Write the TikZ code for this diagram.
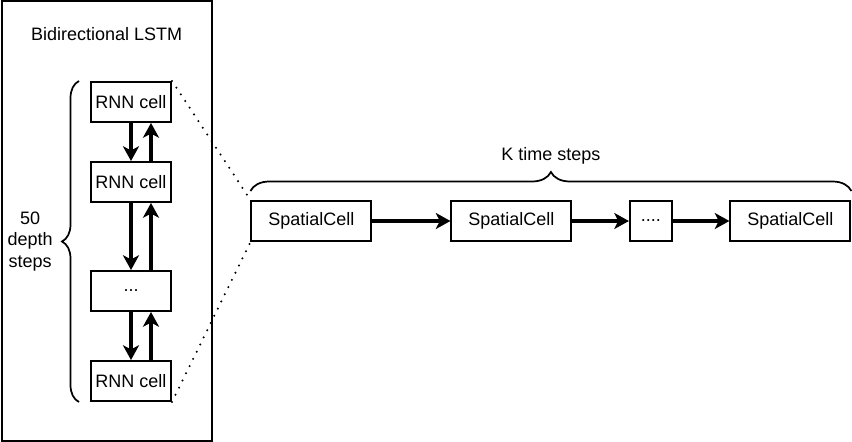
\documentclass[tikz,border=0pt]{standalone}
\usepackage{fontspec}
\setmainfont{Liberation Sans}
\usetikzlibrary{positioning,arrows.meta,decorations.pathreplacing}
\tikzset{
>={Stealth[length=11pt,width=12pt,inset=3pt]},
node distance=60pt,
cell/.style={draw, line width=1.5pt, minimum width=60pt, minimum height=30pt, inner sep=0pt},
spatial/.style={cell, minimum width=90pt},
link/.style={->, line width=2.6pt},
zoomline/.style={line width=1.7pt, line cap=round, dash pattern=on 0pt off 6pt},
stepbrace/.style={decorate, decoration={brace, amplitude=#1}, line width=1.3pt},
}

\begin{document}
\begin{tikzpicture}[font=\fontsize{13.5}{16}\selectfont]
        \useasboundingbox (0,0) rectangle (639pt,-331.5pt);
        % left: the stacked cells
        \node[draw, line width=1.5pt, minimum width=157.5pt, minimum height=329.25pt] (lstm) at (79.9pt,-165.75pt) {};
        \node (title) at ([yshift=-25pt]lstm.north) {Bidirectional LSTM};
        \node[cell] (1) at (98.25pt,-76.5pt) {RNN cell};
        \node[cell, below of=1] (2) {RNN cell};
        \node[cell, below of=2, node distance=81.75pt] (3) {...};
        \node[cell, below of=3, node distance=67.5pt] (4) {RNN cell};
        \draw[link] (1) -- (2);
        \draw[link] (2) -- (3);
        \draw[link] (3) -- (4);
        \draw[link] ([xshift=15pt]2.north) -- ([xshift=15pt]1.south);
        \draw[link] ([xshift=15pt]3.north) -- ([xshift=15pt]2.south);
        \draw[link] ([xshift=15pt]4.north) -- ([xshift=15pt]3.south);
        \draw[stepbrace=12.75pt] ([xshift=-8.25pt]4.south west) -- ([xshift=-8.25pt]1.north west)
        node[midway, left=15.75pt, align=center] (depth) {50\\depth\\steps};
        % right: the time steps
        \node[spatial] (s1) at (233.6pt,-165.75pt) {SpatialCell};
        \node[spatial, right of=s1, node distance=150pt] (s2) {SpatialCell};
        \node[cell, minimum width=31.5pt, right of=s2, node distance=104.6pt] (dots) {....};
        \node[spatial, right of=dots, node distance=104.6pt] (s4) {SpatialCell};
        \draw[link] (s1) -- (s2);
        \draw[link] (s2) -- (dots);
        \draw[link] (dots) -- (s4);
        \draw[stepbrace=14.25pt] ([yshift=6.75pt]s1.north west) -- ([yshift=6.75pt]s4.north east)
        node[midway, above=15.75pt] (ksteps) {K time steps};
        \draw[zoomline] (1.north east) -- (s1.north west);
        \draw[zoomline] (4.south east) -- (s1.south west);
    \end{tikzpicture}
\end{document}
